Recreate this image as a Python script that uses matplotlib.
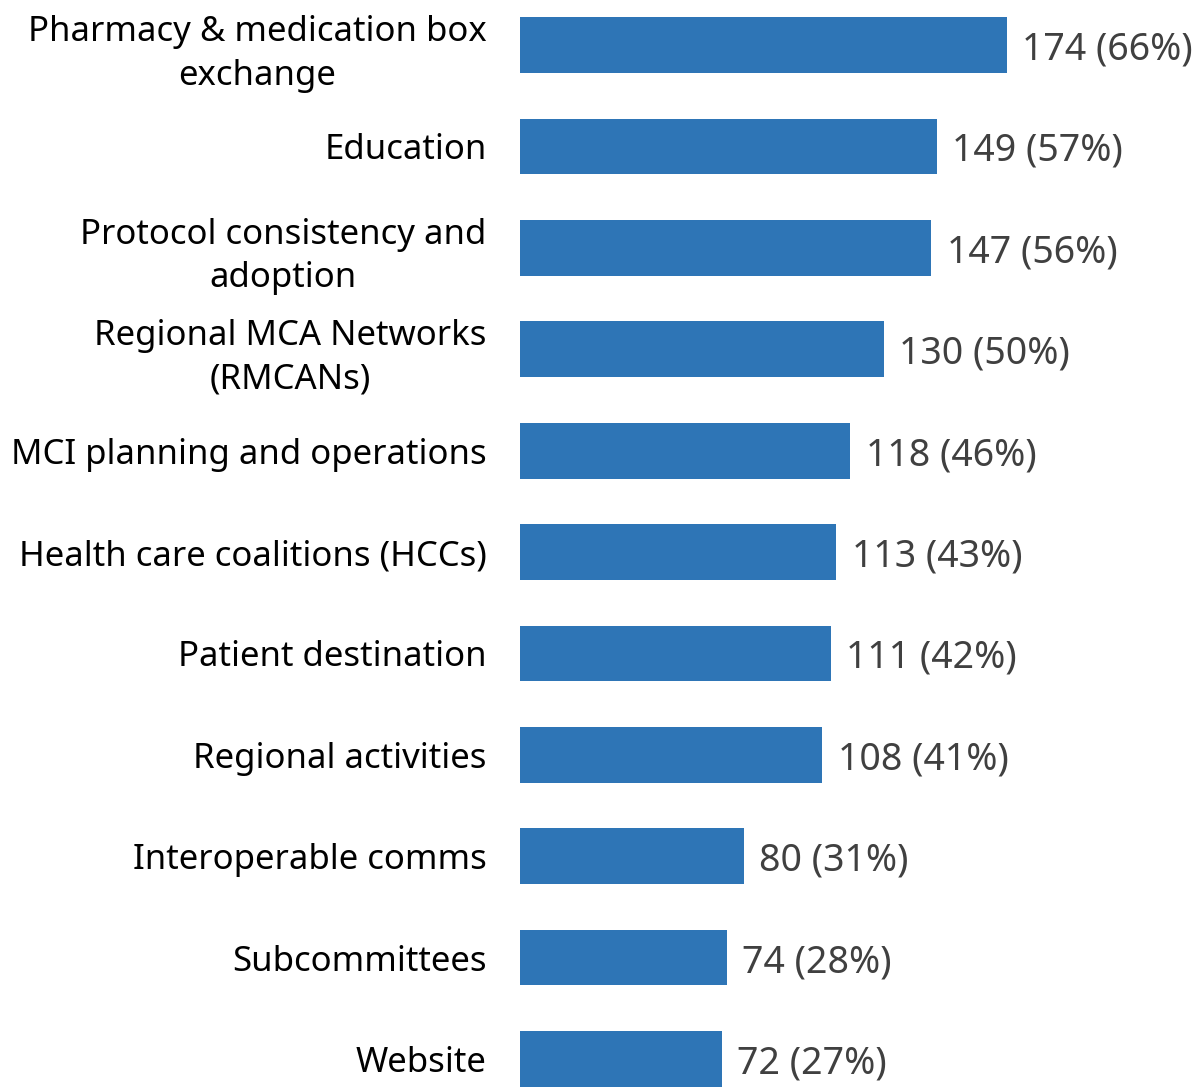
import matplotlib.pyplot as plt
import numpy as np

plt.rcParams['font.family'] = ['Noto Sans', 'DejaVu Sans']

categories = [
    "Pharmacy & medication box\nexchange",
    "Education",
    "Protocol consistency and\nadoption",
    "Regional MCA Networks\n(RMCANs)",
    "MCI planning and operations",
    "Health care coalitions (HCCs)",
    "Patient destination",
    "Regional activities",
    "Interoperable comms",
    "Subcommittees",
    "Website",
]
counts = [174, 149, 147, 130, 118, 113, 111, 108, 80, 74, 72]
percents = [66, 57, 56, 50, 46, 43, 42, 41, 31, 28, 27]

fig = plt.figure(figsize=(11.96, 10.87), dpi=100)
ax = fig.add_axes([520 / 1196, 0, 676 / 1196, 1])

y = np.arange(len(categories))
bars = ax.barh(y, counts, height=0.55, color="#2E75B6")

ax.set_ylim(10.276, -0.444)
ax.set_xlim(0, 241.5)

ax.set_yticks(y)
ax.set_yticklabels(categories, fontsize=25, color="black",
                   multialignment="center", linespacing=1.37)
ax.tick_params(axis="y", length=0, pad=24)
ax.set_xticks([])
for s in ax.spines.values():
    s.set_visible(False)

for yi, c, p in zip(y, counts, percents):
    ax.annotate(f"{c} ({p}%)", xy=(c, yi), xytext=(11, 0),
                textcoords="offset points", ha="left", va="center_baseline",
                fontsize=27, color="#404040")

fig.savefig("out.png", dpi=100)
